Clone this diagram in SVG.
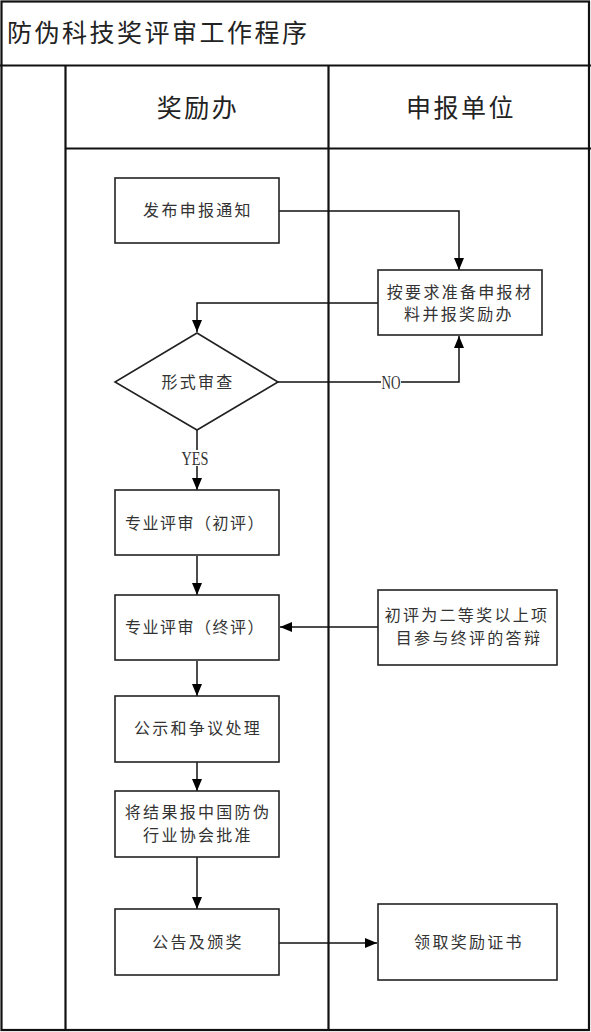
<svg xmlns="http://www.w3.org/2000/svg" width="591" height="1032" viewBox="0 0 591 1032">
<style>
.frame{fill:none;stroke:#111;stroke-width:2.2}
.box{fill:#fff;stroke:#222;stroke-width:1.6}
.conn{fill:none;stroke:#111;stroke-width:1.5}
.t{font-family:"Noto Sans CJK SC","Noto Sans CJK JP",sans-serif;font-size:16px;fill:#333;text-anchor:middle;letter-spacing:2.3px}
.tn{letter-spacing:1.5px}
.h{font-family:"Noto Sans CJK SC","Noto Sans CJK JP",sans-serif;font-size:25px;fill:#222;letter-spacing:2.5px}
.lbl{font-family:"Liberation Serif",serif;font-size:18px;fill:#333;text-anchor:middle}
</style>
<defs>
<marker id="ah" viewBox="0 0 12 10" refX="12" refY="5" markerWidth="12" markerHeight="10" markerUnits="userSpaceOnUse" orient="auto">
<path d="M0,0 L12,5 L0,10 z" fill="#000"/>
</marker>
</defs>
<rect x="0" y="0" width="591" height="1032" fill="#fff"/>
<g id="frame">
<rect class="frame" x="1.5" y="1.5" width="587.5" height="1028.5"/>
<line class="frame" x1="0" y1="65.5" x2="591" y2="65.5"/>
<line class="frame" x1="65.5" y1="65.5" x2="65.5" y2="1030"/>
<line class="frame" x1="328.5" y1="65.5" x2="328.5" y2="1030"/>
<line class="frame" x1="65.5" y1="148.5" x2="591" y2="148.5"/>
<text class="h" x="7" y="42">防伪科技奖评审工作程序</text>
<text class="h" x="198" y="117" text-anchor="middle">奖励办</text>
<text class="h" x="461" y="117" text-anchor="middle">申报单位</text>
</g>
<g id="connectors">
<path class="conn" d="M279,211 H459 V270" marker-end="url(#ah)"/>
<path class="conn" d="M378,303 H197 V332" marker-end="url(#ah)"/>
<path class="conn" d="M278,382 H459 V336" marker-end="url(#ah)"/>
<rect x="381" y="374" width="20" height="16" fill="#fff"/>
<text class="lbl" x="391" y="389" textLength="19" lengthAdjust="spacingAndGlyphs">NO</text>
<path class="conn" d="M197,430 V490" marker-end="url(#ah)"/>
<rect x="181" y="450" width="28" height="16" fill="#fff"/>
<text class="lbl" x="195" y="465" textLength="27" lengthAdjust="spacingAndGlyphs">YES</text>
<path class="conn" d="M197,556 V595" marker-end="url(#ah)"/>
<path class="conn" d="M378,627 H280" marker-end="url(#ah)"/>
<path class="conn" d="M197,661 V696" marker-end="url(#ah)"/>
<path class="conn" d="M197,762 V791" marker-end="url(#ah)"/>
<path class="conn" d="M197,857 V909" marker-end="url(#ah)"/>
<path class="conn" d="M279,943 H377" marker-end="url(#ah)"/>
</g>
<g id="n1">
<rect class="box" x="115" y="178" width="164" height="65"/>
<text class="t" x="198" y="216">发布申报通知</text>
</g>
<g id="n2">
<rect class="box" x="378" y="270" width="164" height="65"/>
<text class="t" x="460" y="298">按要求准备申报材</text>
<text class="t" x="459" y="320">料并报奖励办</text>
</g>
<g id="n3">
<polygon class="box" points="197,333 278,382 197,430 115,382"/>
<text class="t" x="198" y="388">形式审查</text>
</g>
<g id="n4">
<rect class="box" x="115" y="490" width="164" height="65"/>
<text class="t tn" x="195" y="529">专业评审（初评）</text>
</g>
<g id="n5">
<rect class="box" x="115" y="595" width="164" height="65"/>
<text class="t tn" x="195" y="633">专业评审（终评）</text>
</g>
<g id="n6">
<rect class="box" x="378" y="590" width="179" height="75"/>
<text class="t" x="467" y="621">初评为二等奖以上项</text>
<text class="t" x="469" y="644">目参与终评的答辩</text>
</g>
<g id="n7">
<rect class="box" x="115" y="696" width="164" height="66"/>
<text class="t" x="198" y="734">公示和争议处理</text>
</g>
<g id="n8">
<rect class="box" x="115" y="791" width="164" height="66"/>
<text class="t" x="198" y="818">将结果报中国防伪</text>
<text class="t" x="198" y="841">行业协会批准</text>
</g>
<g id="n9">
<rect class="box" x="115" y="909" width="164" height="66"/>
<text class="t" x="198" y="948">公告及颁奖</text>
</g>
<g id="n10">
<rect class="box" x="378" y="904" width="179" height="76"/>
<text class="t" x="469" y="948">领取奖励证书</text>
</g>
</svg>
